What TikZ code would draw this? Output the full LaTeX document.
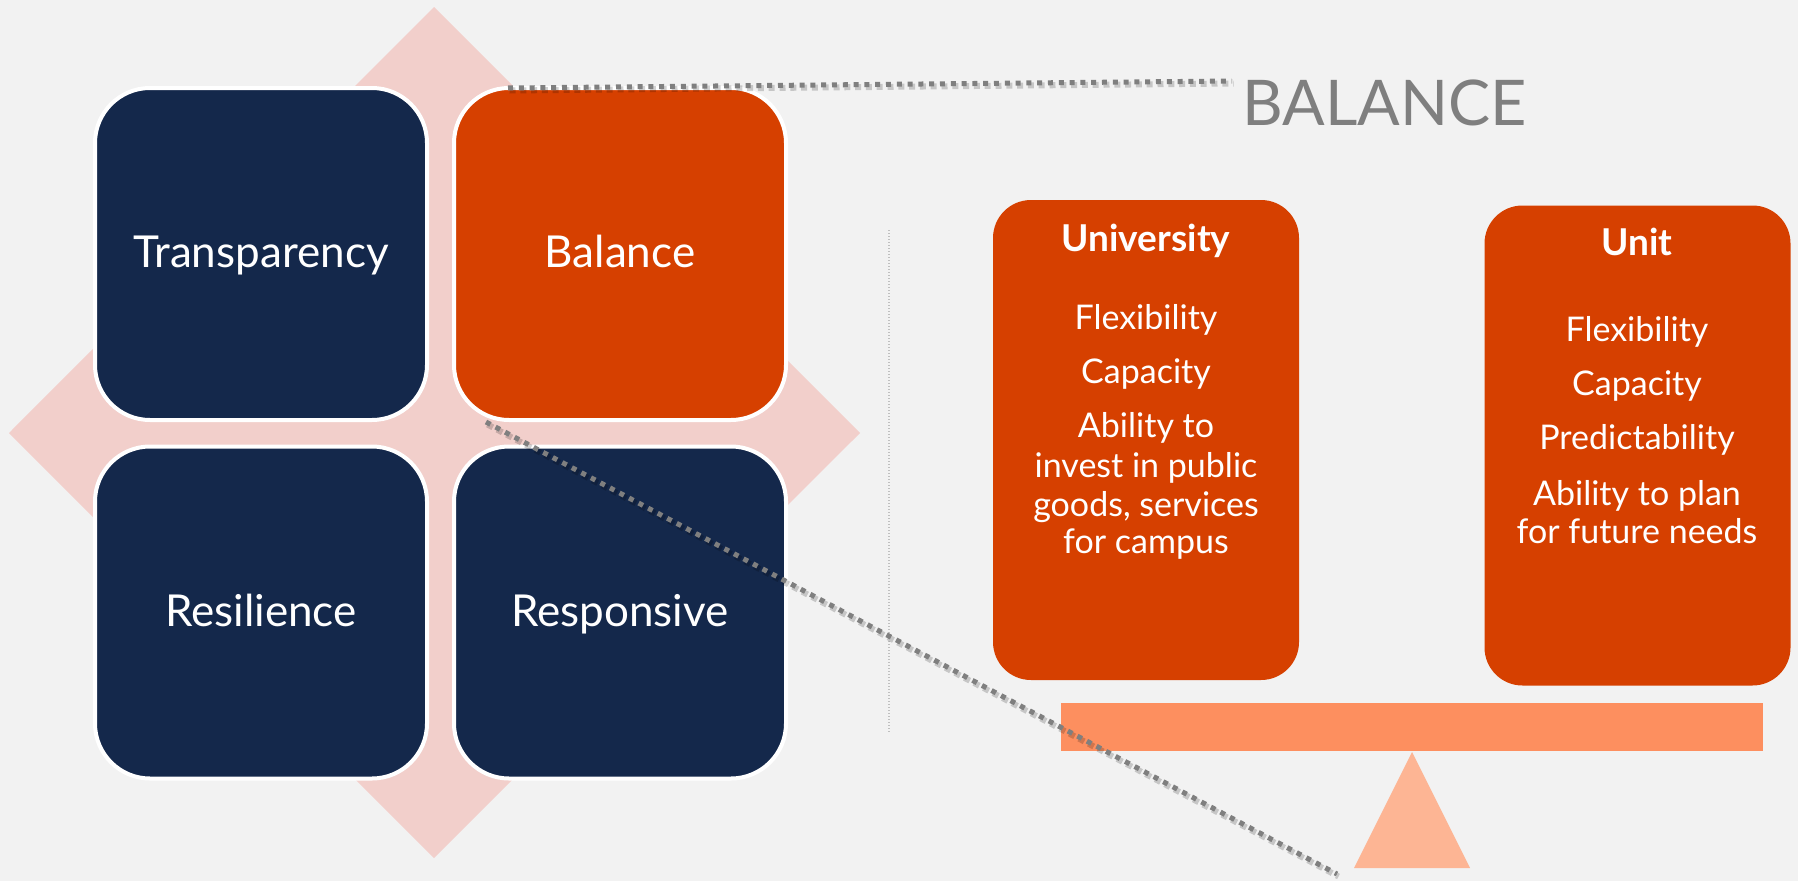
\documentclass[tikz,border=0pt]{standalone}
\usepackage{fontspec}
\setmainfont{Lato}
\definecolor{bgc}{HTML}{F2F2F2}
\definecolor{navy}{HTML}{14284B}
\definecolor{orng}{HTML}{D64000}
\definecolor{pinkd}{HTML}{F2CFCB}
\definecolor{beamc}{HTML}{FD8F5F}
\definecolor{triac}{HTML}{FDB594}
\definecolor{dotc}{HTML}{7F7F7F}
\definecolor{vlinec}{HTML}{BFBFBF}
\tikzset{
 quad/.style={rounded corners=55pt, minimum width=332pt, minimum height=332pt, draw=white, line width=4pt, text=white, font=\fontsize{44}{53}\selectfont, inner sep=0pt, text height=29pt, text depth=2pt},
 navyq/.style={quad, fill=navy},
 orangeq/.style={quad, fill=orng},
 sidebox/.style={rounded corners=38pt, fill=orng, minimum width=306pt, minimum height=480pt, inner sep=0pt},
 ttl/.style={text=white, font=\bfseries\fontsize{37}{44}\selectfont, anchor=base, inner sep=0pt},
 itm/.style={text=white, font=\fontsize{34}{40}\selectfont, anchor=base, inner sep=0pt},
 callout/.style={dotc, line width=5pt, dash pattern=on 5pt off 5.8pt},
 calloutshadow/.style={black, opacity=0.18, line width=6pt, dash pattern=on 6pt off 4.8pt},
}
\begin{document}
\begin{tikzpicture}[x=1pt,y=-1pt]
\useasboundingbox (0,0) rectangle (1798,881);
\fill[bgc] (0,0) rectangle (1798,881);
% diamond
\fill[pinkd] (434,7) -- (860,433) -- (434,858) -- (9,433) -- cycle;
% quadrants
\node[navyq] (tr) at (261,254) {Transparency};
\node[orangeq] (ba) at (620,254) {Balance};
\node[navyq] (re) at (261,612.5) {Resilience};
\node[navyq] (rs) at (620,612.5) {Responsive};
% vertical separator
\coordinate (v1) at (889,230);
\coordinate (v2) at (889,733);
\draw[vlinec, line width=1.2pt, dash pattern=on 1.2pt off 1.8pt] (v1) -- (v2);
% side boxes
\node[sidebox] (uni) at (1146,440) {};
\node[sidebox] (unit) at (1637.5,445.5) {};
\node[ttl] (unit0) at (1146,251) {University};
\node[itm] (u1) at (1146,329) {Flexibility};
\node[itm] (u2) at (1146,383) {Capacity};
\node[itm] (u3) at (1146,437) {Ability to};
\node[itm] (u4) at (1146,477) {invest in public};
\node[itm] (u5) at (1146,516) {goods, services};
\node[itm] (u6) at (1146,553) {for campus};
\node[ttl] (n0) at (1637,255) {Unit};
\node[itm] (n1) at (1637,341) {Flexibility};
\node[itm] (n2) at (1637,395) {Capacity};
\node[itm] (n3) at (1637,449) {Predictability};
\node[itm] (n4) at (1637,505) {Ability to plan};
\node[itm] (n5) at (1637,543) {for future needs};
% seesaw
\fill[beamc] (1061,703) rectangle (1763,751);
\fill[triac] (1412,752) -- (1470,868) -- (1354,868) -- cycle;
% title
\node[text=dotc, font=\fontsize{63}{70}\selectfont, anchor=base, inner sep=0pt] (title) at (1384.5,125) {BALANCE};
% callout lines
\coordinate (a1) at (508,88);
\coordinate (a2) at (1232,81);
\coordinate (b1) at (486,422);
\coordinate (b2) at (1337,874);
\draw[calloutshadow, transform canvas={shift={(1.5pt,-2.5pt)}}] (a1) -- (a2);
\draw[calloutshadow, transform canvas={shift={(1.5pt,-2.5pt)}}] (b1) -- (b2);
\draw[callout] (a1) -- (a2);
\draw[callout] (b1) -- (b2);
\end{tikzpicture}
\end{document}
